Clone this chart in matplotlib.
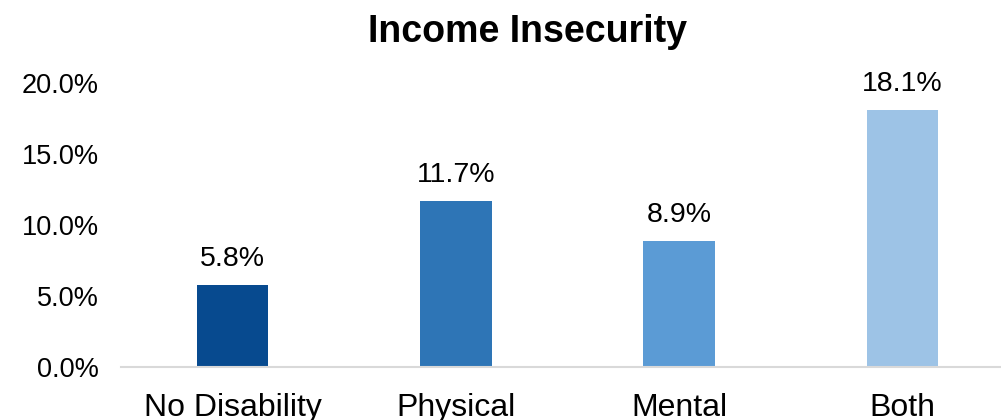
import matplotlib
matplotlib.use("Agg")
import matplotlib.pyplot as plt

categories = ["No Disability", "Physical", "Mental", "Both"]
values = [5.8, 11.7, 8.9, 18.1]
colors = ["#074A8F", "#2E75B6", "#5B9BD5", "#9DC3E6"]
yticks = [0, 5, 10, 15, 20]
title = "Income Insecurity"

plt.rcParams['font.family'] = ['Liberation Sans', 'DejaVu Sans']

W, H = 1001, 420
fig = plt.figure(figsize=(W / 100, H / 100), dpi=100)
ax = fig.add_axes([121 / W, 53 / H, 893 / W, 284 / H])

x = list(range(len(categories)))
bars = ax.bar(x, values, width=0.32, color=colors, zorder=2)
ax.set_xlim(-0.5, len(categories) - 0.5)
ax.set_ylim(0, 20)
ax.set_yticks(yticks)
ax.set_yticklabels([f"{v:.1f}%" for v in yticks])
ax.set_xticks(x)
ax.set_xticklabels(categories)

for s in ["top", "right", "left"]:
    ax.spines[s].set_visible(False)
ax.spines["bottom"].set_color("#D9D9D9")
ax.spines["bottom"].set_linewidth(1.5)
ax.tick_params(axis="y", length=0, pad=16, labelsize=19.5, labelcolor="#000000")
ax.tick_params(axis="x", length=0, pad=19, labelsize=23, labelcolor="#000000")

for b, v in zip(bars, values):
    ax.annotate(f"{v:.1f}%", (b.get_x() + b.get_width() / 2, v),
                xytext=(0, 9), textcoords="offset points",
                ha="center", va="bottom", fontsize=20.5, color="#000000")

fig.text(527 / W, (H - 42) / H, title, ha="center", va="baseline",
         fontsize=27, fontweight="bold", color="#000000")

fig.savefig("out.png", dpi=100)
